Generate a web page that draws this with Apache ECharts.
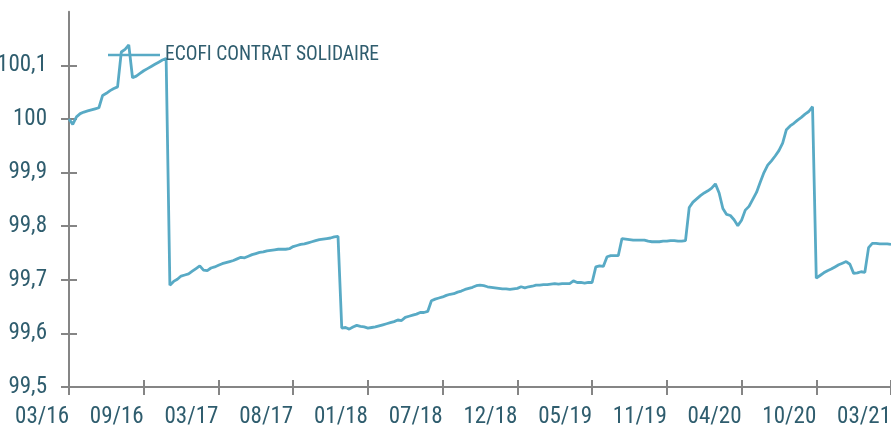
<!DOCTYPE html>
<html>
<head>
<meta charset="utf-8">
<script src="https://cdn.jsdelivr.net/npm/echarts@6/dist/echarts.min.js"></script>
<style>
html,body{margin:0;padding:0;background:#fff;}
#c{width:891px;height:428px;}
</style>
</head>
<body>
<div id="c"></div>
<script>
// Tick labels shown on the x axis (one every 20 observations)
const tickLabels = ['03/16','09/16','03/17','08/17','01/18','07/18','12/18','05/19','11/19','04/20','10/20','03/21'];
const pointsPerTick = 20;
const seriesName = 'ECOFI CONTRAT SOLIDAIRE';
const yTicks = [99.5, 99.6, 99.7, 99.8, 99.9, 100, 100.1];

// Values, chronological
const values = [
  100.000, 99.990, 100.004, 100.010, 100.013, 100.015, 100.017, 100.019, 100.021, 100.044,
  100.048, 100.053, 100.057, 100.060, 100.125, 100.130, 100.138, 100.077, 100.080, 100.085,
  100.090, 100.094, 100.098, 100.102, 100.106, 100.110, 100.113, 99.690, 99.697, 99.701,
  99.707, 99.709, 99.711, 99.716, 99.721, 99.726, 99.718, 99.717, 99.722, 99.724,
  99.727, 99.730, 99.732, 99.734, 99.736, 99.739, 99.742, 99.741, 99.744, 99.747,
  99.749, 99.751, 99.752, 99.754, 99.755, 99.756, 99.757, 99.757, 99.757, 99.758,
  99.762, 99.764, 99.766, 99.767, 99.769, 99.771, 99.773, 99.775, 99.776, 99.777,
  99.778, 99.780, 99.781, 99.610, 99.611, 99.608, 99.612, 99.615, 99.613, 99.612,
  99.610, 99.611, 99.612, 99.614, 99.616, 99.618, 99.620, 99.622, 99.625, 99.624,
  99.630, 99.632, 99.634, 99.636, 99.639, 99.639, 99.641, 99.661, 99.664, 99.666,
  99.668, 99.671, 99.673, 99.674, 99.677, 99.679, 99.682, 99.684, 99.686, 99.689,
  99.690, 99.689, 99.687, 99.686, 99.685, 99.684, 99.683, 99.683, 99.682, 99.683,
  99.684, 99.687, 99.685, 99.687, 99.688, 99.690, 99.690, 99.691, 99.691, 99.692,
  99.693, 99.692, 99.693, 99.693, 99.693, 99.698, 99.695, 99.695, 99.694, 99.695,
  99.695, 99.724, 99.726, 99.725, 99.743, 99.745, 99.745, 99.745, 99.777, 99.776,
  99.775, 99.774, 99.774, 99.774, 99.774, 99.772, 99.771, 99.771, 99.771, 99.772,
  99.772, 99.773, 99.773, 99.772, 99.772, 99.773, 99.835, 99.845, 99.851, 99.857,
  99.862, 99.866, 99.871, 99.879, 99.862, 99.833, 99.822, 99.820, 99.812, 99.801,
  99.811, 99.830, 99.837, 99.850, 99.863, 99.882, 99.900, 99.914, 99.922, 99.931,
  99.941, 99.955, 99.980, 99.987, 99.992, 99.998, 100.003, 100.009, 100.014, 100.023,
  99.703, 99.708, 99.713, 99.717, 99.720, 99.724, 99.728, 99.731, 99.734, 99.729,
  99.712, 99.713, 99.715, 99.714, 99.760, 99.768, 99.768, 99.767, 99.767, 99.767,
  99.766
];

const categories = values.map((v, i) => (i % pointsPerTick === 0 ? tickLabels[i / pointsPerTick] : 'p' + i));

const FONT = 'Roboto, sans-serif';
const FW = 'normal condensed';
const TXT = '#2f5d6e';
const AX = '#858585';
const LINE = '#58aac5';

const chart = echarts.init(document.getElementById('c'), null, {renderer: 'canvas'});
const fmtY = v => { const r = Math.round(v * 10) / 10; return String(r).replace('.', ','); };

chart.setOption({
  animation: false,
  backgroundColor: '#ffffff',
  grid: {left: 69, right: 0, top: 11.8, bottom: 41, containLabel: false, outerBoundsMode: 'none'},
  legend: {
    show: true,
    left: 108,
    top: 45,
    padding: 0,
    icon: 'rect',
    itemWidth: 52,
    itemHeight: 2.5,
    itemGap: 3,
    textStyle: {fontFamily: FONT, fontWeight: FW, fontSize: 19.5, color: TXT},
    data: [seriesName]
  },
  xAxis: [
    {
      type: 'category',
      data: categories,
      boundaryGap: false,
      axisLine: {show: true, lineStyle: {color: AX, width: 2}},
      axisTick: {show: true, interval: pointsPerTick - 1, length: 8, lineStyle: {color: AX, width: 2}},
      axisLabel: {
        show: true,
        interval: pointsPerTick - 1,
        align: 'right',
        margin: 19,
        fontFamily: FONT, fontWeight: FW, fontSize: 23, color: TXT,
        formatter: (val, idx) => (idx % pointsPerTick === 0 ? tickLabels[idx / pointsPerTick] : '')
      },
      splitLine: {show: false}
    },
    {
      type: 'category',
      data: categories,
      boundaryGap: false,
      position: 'bottom',
      axisLine: {show: false},
      axisTick: {show: true, inside: true, interval: pointsPerTick - 1, length: 7, lineStyle: {color: AX, width: 2}},
      axisLabel: {show: false},
      splitLine: {show: false}
    }
  ],
  yAxis: [
    {
      type: 'value',
      min: 99.5,
      max: 100.2,
      interval: 0.1,
      axisLine: {show: true, lineStyle: {color: AX, width: 2}},
      axisTick: {show: true, length: 8, customValues: yTicks, lineStyle: {color: AX, width: 2}},
      axisLabel: {show: true, margin: 22, fontFamily: FONT, fontWeight: FW, fontSize: 23, color: TXT, customValues: yTicks, formatter: fmtY},
      splitLine: {show: false}
    },
    {
      type: 'value',
      min: 99.5,
      max: 100.2,
      interval: 0.1,
      position: 'left',
      axisLine: {show: false},
      axisTick: {show: true, inside: true, length: 8, customValues: yTicks, lineStyle: {color: AX, width: 2}},
      axisLabel: {show: false},
      splitLine: {show: false}
    }
  ],
  series: [{
    name: seriesName,
    type: 'line',
    data: values,
    symbol: 'none',
    showSymbol: false,
    smooth: false,
    lineStyle: {color: LINE, width: 2.8},
    itemStyle: {color: LINE}
  }]
});
</script>
</body>
</html>
